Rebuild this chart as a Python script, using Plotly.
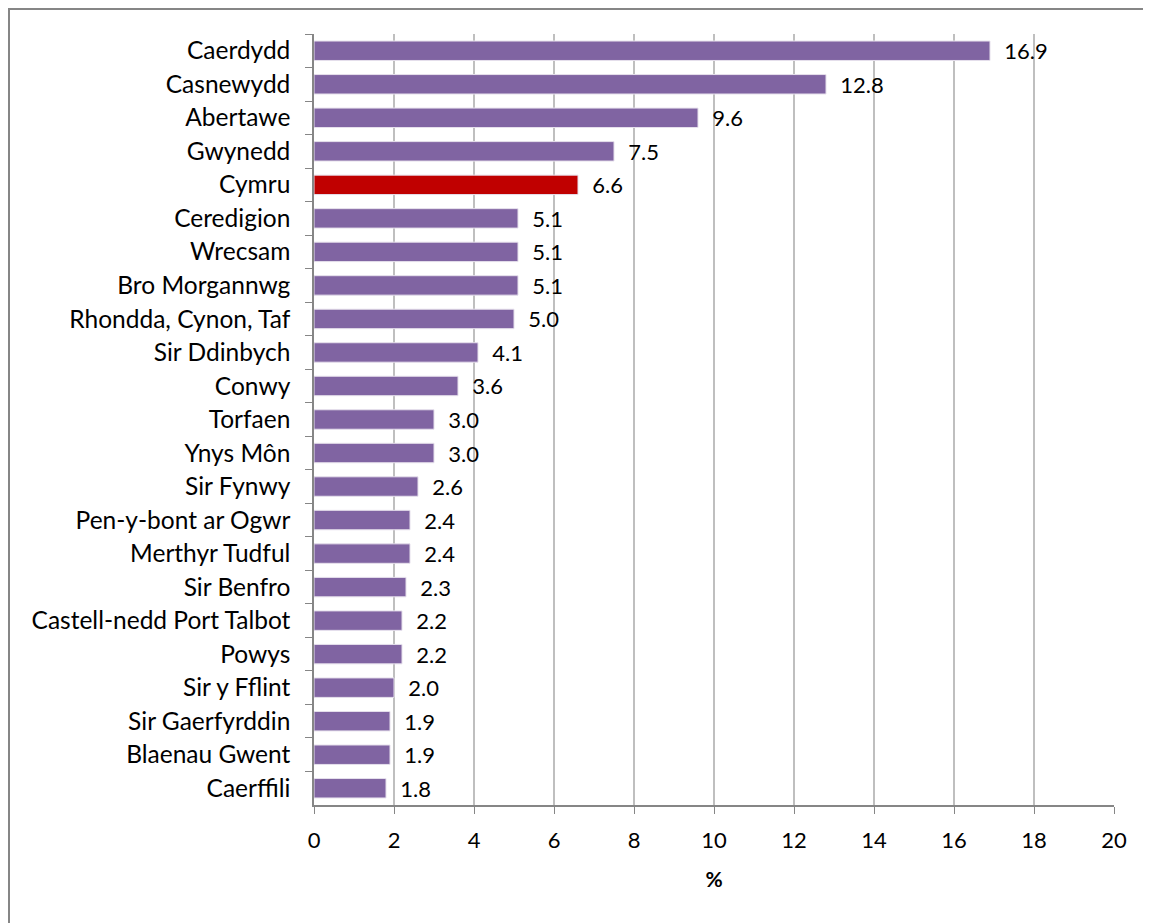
import plotly.graph_objects as go

categories = ["Caerdydd", "Casnewydd", "Abertawe", "Gwynedd", "Cymru", "Ceredigion",
              "Wrecsam", "Bro Morgannwg", "Rhondda, Cynon, Taf", "Sir Ddinbych", "Conwy",
              "Torfaen", "Ynys Môn", "Sir Fynwy", "Pen-y-bont ar Ogwr", "Merthyr Tudful",
              "Sir Benfro", "Castell-nedd Port Talbot", "Powys", "Sir y Fflint",
              "Sir Gaerfyrddin", "Blaenau Gwent", "Caerffili"]
values = [16.9, 12.8, 9.6, 7.5, 6.6, 5.1, 5.1, 5.1, 5.0, 4.1, 3.6, 3.0, 3.0, 2.6,
          2.4, 2.4, 2.3, 2.2, 2.2, 2.0, 1.9, 1.9, 1.8]
x_ticks = [0, 2, 4, 6, 8, 10, 12, 14, 16, 18, 20]

purple = "#8064A2"
red = "#C00000"
colors = [red if c == "Cymru" else purple for c in categories]

FONT = "Lato"
FS = 22

fig = go.Figure(go.Bar(
    x=values, y=categories, orientation="h",
    marker=dict(color=colors, line=dict(color="#E6E0EC", width=1)),
    text=["\u00a0\u00a0" + f"{v:.1f}" for v in values], textposition="outside",
    textfont=dict(family=FONT, size=FS, color="black"),
    constraintext="none",
    cliponaxis=False, width=0.58,
))

fig.update_layout(
    width=1151, height=923,
    margin=dict(l=306, r=45, t=26, b=126),
    paper_bgcolor="white", plot_bgcolor="white",
    showlegend=False,
    font=dict(family=FONT, size=FS, color="black"),
    xaxis=dict(range=[0, 20], tickvals=x_ticks, showgrid=True, gridcolor="#BFBFBF",
               gridwidth=1.5, zeroline=False, showline=True, linecolor="#868686",
               linewidth=1.5, ticks="outside", ticklen=7, tickcolor="#868686",
               tickfont=dict(family=FONT, size=FS), ticklabelstandoff=8,
               title=dict(text="<b>%</b>", font=dict(family=FONT, size=FS - 1), standoff=20)),
    yaxis=dict(autorange="reversed", showline=True, linecolor="#868686", linewidth=1.5,
               ticks="outside", ticklen=7, tickcolor="#868686", tickson="boundaries",
               showgrid=False, tickfont=dict(family=FONT, size=24.5), ticklabelstandoff=17),
    shapes=[dict(type="rect", xref="paper", yref="paper",
                 x0=-0.38125, x1=1.2, y0=-0.5, y1=1.0324,
                 line=dict(color="#868686", width=2), fillcolor="rgba(0,0,0,0)")],
)

fig.write_html("out.html")
